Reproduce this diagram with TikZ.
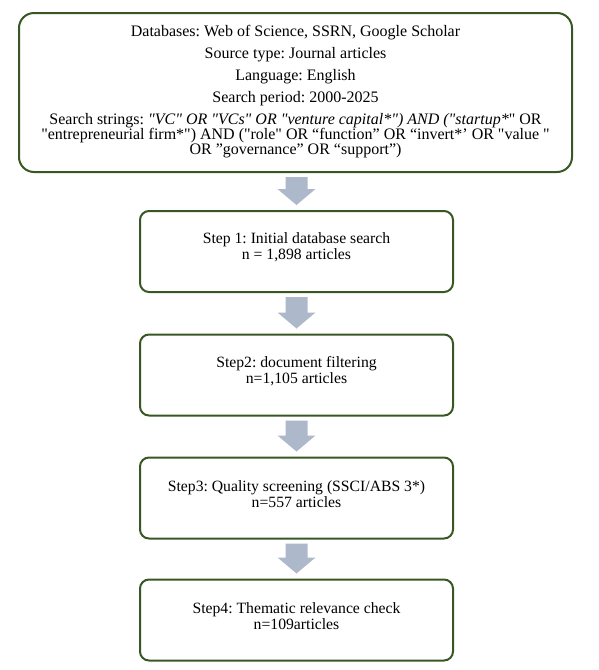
\documentclass[tikz,border=0pt]{standalone}
\usepackage{fontspec}
\setmainfont{Liberation Serif}[Ligatures=TeXOff]
\usetikzlibrary{calc}
\definecolor{boxgreen}{RGB}{56,87,35}
\definecolor{arrowgray}{RGB}{173,185,202}
\newcommand{\blockarrow}[2]{%
  \fill[arrowgray] let \p1=(#1.south), \p2=(#2.north) in
    (\x2-11pt,\y1-4pt) -- (\x2+11pt,\y1-4pt) -- (\x2+11pt,\y2+21pt) --
    (\x2+19pt,\y2+21pt) -- (\x2,\y2+5pt) -- (\x2-19pt,\y2+21pt) --
    (\x2-11pt,\y2+21pt) -- cycle;}
\begin{document}
\frenchspacing
\setlength{\lineskiplimit}{-20pt}
\begin{tikzpicture}[x=1pt,y=-1pt,
  flowbox/.style={draw=boxgreen, line width=2pt, fill=white, inner sep=0pt},
  topbox/.style={flowbox, rounded corners=15pt, minimum width=553pt, minimum height=159pt},
  stepbox/.style={flowbox, rounded corners=9pt, minimum width=313pt, minimum height=81pt},
  toptext/.style={align=center, inner sep=0pt, font=\fontsize{16}{15.1}\selectfont},
  steptext/.style={align=center, inner sep=0pt, font=\fontsize{15.7}{16}\selectfont}]
\useasboundingbox (0,0) rectangle (598,670);
\node[topbox] (src) at (295.5,92.5) {};
\node[stepbox] (s1) at (296.5,251.5) {};
\node[stepbox] (s2) at (296.5,375) {};
\node[stepbox] (s3) at (296.5,498) {};
\node[stepbox] (s4) at (296.5,620) {};
\node[toptext] (srctext) at ($(src.center)+(0,-1)$) {%
  Databases: Web of Science, SSRN, Google Scholar\\[6.8pt]
  Source type: Journal articles\\[6.8pt]
  Language: English\\[6.8pt]
  Search period: 2000-2025\\[6.8pt]
  Search strings: \textit{"VC" OR "VCs" OR "venture capital*") AND ("startup*}" OR\\
  "entrepreneurial firm*") AND ("role" OR “function” OR “invert*’ OR "value "\\
  OR ”governance” OR “support”)};
\node[steptext] (t1) at ($(s1.center)+(0,-4)$) {Step 1: Initial database search\\n = 1,898 articles};
\node[steptext] (t2) at ($(s2.center)+(0,-4)$) {Step2: document filtering\\n=1,105 articles};
\node[steptext] (t3) at ($(s3.center)+(0,-4)$) {Step3: Quality screening (SSCI/ABS 3*)\\n=557 articles};
\node[steptext] (t4) at ($(s4.center)+(0,-4)$) {Step4: Thematic relevance check\\n=109articles};
\blockarrow{src}{s1}
\blockarrow{s1}{s2}
\blockarrow{s2}{s3}
\blockarrow{s3}{s4}
\end{tikzpicture}
\end{document}
